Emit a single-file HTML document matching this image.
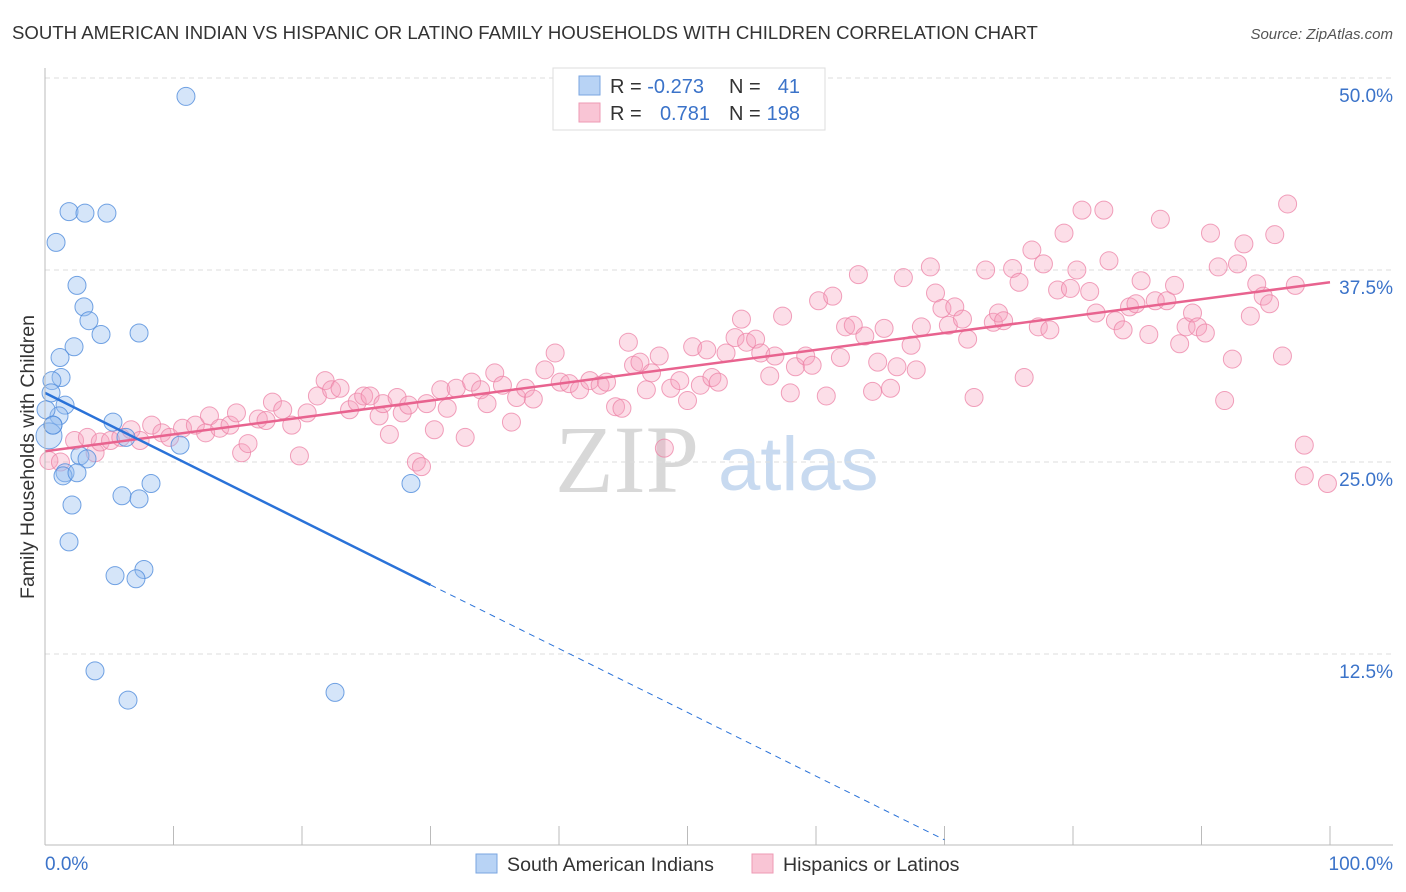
<!DOCTYPE html>
<html><head><meta charset="utf-8"><style>
body{margin:0;background:#fff;font-family:"Liberation Sans",sans-serif;}
#wrap{position:relative;width:1406px;height:892px;overflow:hidden;}
</style></head><body>
<div id="wrap">
<svg id="svg" width="1406" height="892">
<text x="12" y="39" font-size="18.6" fill="#333">SOUTH AMERICAN INDIAN VS HISPANIC OR LATINO FAMILY HOUSEHOLDS WITH CHILDREN CORRELATION CHART</text>
<text x="1393" y="39" font-size="15" fill="#555" font-style="italic" text-anchor="end">Source: ZipAtlas.com</text>
<text x="34" y="457" font-size="19.5" fill="#333" text-anchor="middle" transform="rotate(-90 34 457)">Family Households with Children</text>
<text x="555" y="492" font-size="96" fill="#d8d8d8" font-family="Liberation Serif,serif">ZIP</text>
<text x="718" y="490" font-size="76" fill="#c8daf0">atlas</text>
<g id="grid"></g><g id="pts"></g><g id="lines"></g>
<line x1="45" y1="68" x2="45" y2="845" stroke="#bbb"/>
<line x1="45" y1="845" x2="1393" y2="845" stroke="#bbb"/>
<text x="45" y="870" font-size="19" fill="#3b73c9">0.0%</text>
<text x="1393" y="870" font-size="19" fill="#3b73c9" text-anchor="end">100.0%</text>
<g>
<rect x="553" y="68" width="272" height="62" fill="#fff" stroke="#ddd"/>
<rect x="579" y="76" width="21" height="19" fill="#b8d3f5" stroke="#7aa6e0"/>
<rect x="579" y="103" width="21" height="19" fill="#f9c5d5" stroke="#ee9ab4"/>
<text x="610" y="93" font-size="20" fill="#333">R = <tspan fill="#3b73c9">-0.273</tspan></text>
<text x="729" y="93" font-size="20" fill="#333">N = </text><text x="800" y="93" font-size="20" fill="#3b73c9" text-anchor="end">41</text>
<text x="610" y="120" font-size="20" fill="#333">R = </text><text x="710" y="120" font-size="20" fill="#3b73c9" text-anchor="end">0.781</text>
<text x="729" y="120" font-size="20" fill="#333">N = </text><text x="800" y="120" font-size="20" fill="#3b73c9" text-anchor="end">198</text>
</g>
<g>
<rect x="476" y="854" width="21" height="19" fill="#b8d3f5" stroke="#7aa6e0"/>
<text x="507" y="871" font-size="19.6" fill="#333">South American Indians</text>
<rect x="752" y="854" width="21" height="19" fill="#f9c5d5" stroke="#ee9ab4"/>
<text x="783" y="871" font-size="19.6" fill="#333">Hispanics or Latinos</text>
</g>
</svg></div>
<script>
const yTicks=[12.5,25,37.5,50];
const yTickLabels=["12.5%","25.0%","37.5%","50.0%"];
const xTicks=[10,20,30,40,50,60,70,80,90,100];
const blueX=[10.97,0.86,1.87,3.11,4.82,2.49,3.03,3.42,4.36,7.32,2.26,1.17,1.25,0.54,0.47,1.56,1.09,0.62,0.31,5.29,6.30,10.51,2.72,3.27,1.56,1.40,2.49,2.10,5.99,7.32,8.25,1.87,5.45,7.70,7.08,3.89,6.46,22.57,28.48,0.08,0.62];
const blueY=[48.8,39.3,41.3,41.2,41.2,36.5,35.1,34.2,33.3,33.4,32.5,31.8,30.5,30.3,29.5,28.7,28.0,27.4,26.7,27.6,26.6,26.1,25.4,25.2,24.3,24.1,24.3,22.2,22.8,22.6,23.6,19.8,17.6,18.0,17.4,11.4,9.5,10.0,23.6,28.4,27.4];
const pinkX=[0.3,1.2,2.3,3.3,3.9,4.3,5.1,5.9,6.7,7.4,8.3,9.1,9.7,10.7,11.7,12.5,12.8,13.6,14.4,14.9,15.3,15.8,16.6,17.2,17.7,18.5,19.2,19.8,20.4,21.2,21.8,22.3,22.96,23.7,24.3,24.8,25.3,26.0,26.3,26.8,27.4,27.8,28.3,28.9,29.3,29.7,30.3,30.8,31.3,32.0,32.7,33.2,33.9,34.4,35.0,35.6,36.3,36.7,37.4,38.0,38.9,39.7,40.1,40.8,41.6,42.4,43.2,43.7,44.4,44.9,45.4,45.8,46.3,46.8,47.2,47.8,48.2,48.7,49.4,50.0,50.4,51.0,51.5,51.9,52.4,53.0,53.7,54.2,54.6,55.3,55.7,56.4,56.8,57.4,58.0,58.4,59.2,59.7,60.2,60.8,61.3,61.9,62.3,62.9,63.3,63.8,64.4,64.8,65.3,65.8,66.3,66.8,67.4,67.8,68.2,68.9,69.3,69.8,70.3,70.8,71.4,71.8,72.3,73.2,73.8,74.2,74.6,75.3,75.8,76.2,76.8,77.3,77.7,78.2,78.8,79.3,79.8,80.3,80.7,81.3,81.8,82.4,82.8,83.3,83.9,84.4,84.9,85.3,85.9,86.4,86.8,87.3,87.9,88.3,88.8,89.3,89.7,90.3,90.7,91.3,91.8,92.4,92.8,93.3,93.8,94.3,94.8,95.3,95.7,96.3,96.7,97.3,98.0,98.0,99.8];
const pinkY=[25.1,25.0,26.4,26.6,25.6,26.3,26.4,26.6,27.1,26.4,27.4,26.9,26.6,27.2,27.4,26.9,28.0,27.2,27.4,28.2,25.6,26.2,27.8,27.7,28.9,28.4,27.4,25.4,28.2,29.3,30.3,29.7,29.8,28.4,28.9,29.3,29.3,28.0,28.8,26.8,29.2,28.2,28.7,25.0,24.7,28.8,27.1,29.7,28.5,29.8,26.6,30.2,29.7,28.8,30.8,30.0,27.6,29.2,29.8,29.1,31.0,32.1,30.2,30.1,29.7,30.3,30.0,30.2,28.6,28.5,32.8,31.3,31.5,29.7,30.8,31.9,25.9,29.8,30.3,29.0,32.5,30.0,32.3,30.5,30.2,32.1,33.1,34.3,32.8,33.0,32.1,30.6,31.9,34.5,29.5,31.2,31.9,31.3,35.5,29.3,35.8,31.8,33.8,33.9,37.2,33.2,29.6,31.5,33.7,29.8,31.2,37.0,32.6,31.0,33.8,37.7,36.0,35.0,33.9,35.1,34.3,33.0,29.2,37.5,34.1,34.7,34.2,37.6,36.7,30.5,38.8,33.8,37.9,33.6,36.2,39.9,36.3,37.5,41.4,36.1,34.7,41.4,38.1,34.2,33.6,35.1,35.3,36.8,33.3,35.5,40.8,35.5,36.5,32.7,33.8,34.7,33.8,33.4,39.9,37.7,29.0,31.7,37.9,39.2,34.5,36.6,35.8,35.3,39.8,31.9,41.8,36.5,26.1,24.1,23.6];
const pinkLine=[25.7,36.7];
const blueLine=[29.5,17.0,0.4];
const blueLineX=[0,30,70];
const NS="http://www.w3.org/2000/svg";
const X=v=>45+v*12.85, Y=v=>846-v*15.36;
function mk(tag,attrs,parent){const e=document.createElementNS(NS,tag);for(const k in attrs)e.setAttribute(k,attrs[k]);parent.appendChild(e);return e;}
const grid=document.getElementById('grid'),pts=document.getElementById('pts'),lines=document.getElementById('lines'),svg=document.getElementById('svg');
yTicks.forEach((t,i)=>{
 const l=mk('line',{x1:45,x2:1393,y1:Y(t),y2:Y(t),stroke:'#ddd','stroke-dasharray':'5,4'},grid);
 
 
 const tx=mk('text',{x:1393,y:Y(t)+24,'font-size':19,fill:'#3b73c9','text-anchor':'end'},svg);
 tx.textContent=yTickLabels[i];
 
 
});
xTicks.forEach(t=>{
 const l=mk('line',{x1:X(t),x2:X(t),y1:826,y2:845,stroke:'#bbb'},grid);
 
 
});
pinkX.forEach((x,i)=>{
 const c=mk('circle',{cx:X(x),cy:Y(pinkY[i]),r:9,fill:'rgba(246,160,190,0.35)',stroke:'rgba(236,130,165,0.75)','stroke-width':1},pts);
 
 
});
blueX.forEach((x,i)=>{
 const c=mk('circle',{cx:X(x),cy:Y(blueY[i]),r:i==18?13:9,fill:'rgba(150,190,240,0.4)',stroke:'rgba(80,140,220,0.8)','stroke-width':1},pts);
 
 
});
const pl=mk('line',{x1:X(0),y1:Y(pinkLine[0]),x2:X(100),y2:Y(pinkLine[1]),stroke:'#e8638f','stroke-width':2.5},lines);


const bl=mk('line',{x1:X(blueLineX[0]),y1:Y(blueLine[0]),x2:X(blueLineX[1]),y2:Y(blueLine[1]),stroke:'#2a72d8','stroke-width':2.5},lines);


const bd=mk('line',{x1:X(blueLineX[1]),y1:Y(blueLine[1]),x2:X(blueLineX[2]),y2:Y(blueLine[2]),stroke:'#2a72d8','stroke-width':1,'stroke-dasharray':'6,5'},lines);


</script>
</body></html>
